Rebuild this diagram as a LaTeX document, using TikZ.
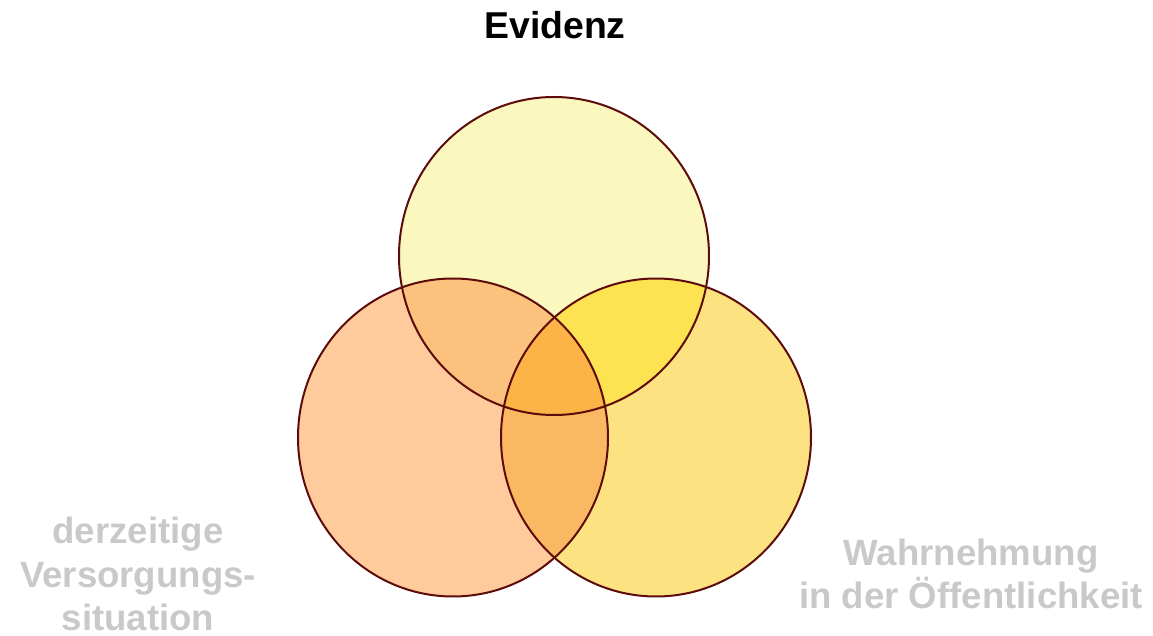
\documentclass[tikz,border=0pt]{standalone}
\usepackage{fontspec}
\setmainfont{Liberation Sans}
\definecolor{rand}{HTML}{5E0B0B}
\definecolor{fEv}{HTML}{FBF8BF}
\definecolor{fVe}{HTML}{FFCB9C}
\definecolor{fWa}{HTML}{FDE282}
\definecolor{fEvVe}{HTML}{FBC27E}
\definecolor{fEvWa}{HTML}{FDE252}
\definecolor{fVeWa}{HTML}{FBB862}
\definecolor{fAlle}{HTML}{FBB445}
\definecolor{grau}{HTML}{C8C9CA}
\tikzset{
  kreis/.style={x radius=77.5pt, y radius=79.5pt},
  titel/.style={font=\fontsize{18.7}{22}\selectfont\bfseries, text=black},
  etikett/.style={font=\fontsize{18.3}{21.8}\selectfont\bfseries, text=grau, align=center}
}
\begin{document}
\begin{tikzpicture}[x=0.5pt, y=-0.5pt]
   \useasboundingbox (0,0) rectangle (1153,636);
   %mittelpunkte
   \coordinate (ev) at (554,256);
   \coordinate (ve) at (453,437.5);
   \coordinate (wa) at (656,437.5);
   %kreise
   \fill[fEv] (ev) ellipse[kreis];
   \fill[fVe] (ve) ellipse[kreis];
   \fill[fWa] (wa) ellipse[kreis];
   %schnittflaechen
   \begin{scope}
      \clip (ev) ellipse[kreis];
      \fill[fEvVe] (ve) ellipse[kreis];
      \fill[fEvWa] (wa) ellipse[kreis];
   \end{scope}
   \begin{scope}
      \clip (ve) ellipse[kreis];
      \fill[fVeWa] (wa) ellipse[kreis];
      \clip (wa) ellipse[kreis];
      \fill[fAlle] (ev) ellipse[kreis];
   \end{scope}
   %raender
   \draw[rand, line width=1pt] (ev) ellipse[kreis];
   \draw[rand, line width=1pt] (ve) ellipse[kreis];
   \draw[rand, line width=1pt] (wa) ellipse[kreis];
   %texte
   \node[titel, anchor=base] (evidenz) at (555,39) {Evidenz};
   \node[etikett] (versorgung) at (138,574) {derzeitige\\Versorgungs-\\situation};
   \node[etikett] (wahrnehmung) at (971,574) {Wahrnehmung\\in der Öffentlichkeit};
\end{tikzpicture}
\end{document}
